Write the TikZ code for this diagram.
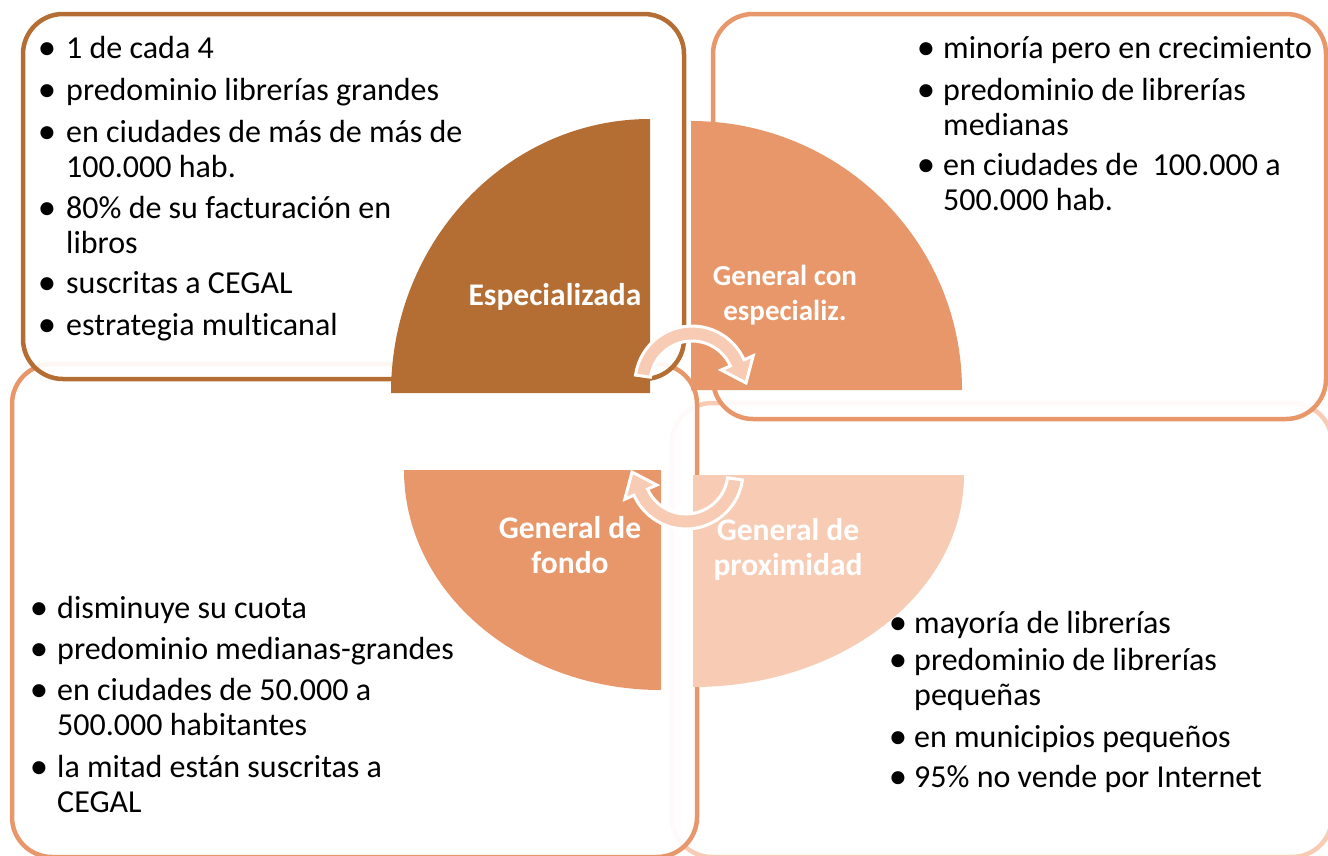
\documentclass[tikz,border=0pt]{standalone}
\usepackage{fontspec}
\setmainfont[Ligatures={NoCommon,NoContextual}, RawFeature={-liga;-clig;-calt}]{Carlito}
\definecolor{cBrown}{HTML}{B46E34}
\definecolor{cOrange}{HTML}{E8976A}
\definecolor{cPeach}{HTML}{F8CBB4}
\newcommand{\bul}[1]{\llap{\raisebox{-1.5pt}{\scalebox{1.15}{\textbullet}}\hspace{#1pt}}}
\begin{document}
\begin{tikzpicture}[x=1pt,y=-1pt]
    \tikzstyle{card}=[fill=white, fill opacity=0.92, line width=4.5pt, rounded corners=40pt]
    \tikzstyle{bullettext}=[anchor=base west, inner sep=0pt, align=left, font=\fontsize{32}{35}\selectfont]
    \tikzstyle{qlabel}=[anchor=base, inner sep=0pt, align=center, text=white, font=\bfseries\fontsize{31.5}{35}\selectfont]
    \tikzstyle{turn}=[fill=cPeach, draw=white, line width=3pt]
    \useasboundingbox (0,0) rectangle (1328,855);
    % boxes, back to front
    \draw[card, draw=cPeach] (672,403) rectangle (1332,857);
    \draw[card, draw=cOrange] (12,364) rectangle (697,857);
    \draw[card, draw=cOrange] (713,14) rectangle (1326,419);
    \draw[card, draw=cBrown] (23,14) rectangle (684,379);
    % quarters
    \fill[cBrown] (650,393) -- (391,393) arc[start angle=180, end angle=270, x radius=259, y radius=274] -- cycle;
    \fill[cOrange] (691,390) -- (691,121) arc[start angle=270, end angle=360, x radius=271, y radius=269] -- cycle;
    \fill[cOrange] (661,470) -- (404,470) arc[start angle=180, end angle=90, x radius=257, y radius=220] -- cycle;
    \fill[cPeach] (693,475) -- (964,475) arc[start angle=0, end angle=90, x radius=271, y radius=212] -- cycle;
    % cycle arrows
    \begin{scope}[shift={(692,383)}, yscale=-1]
      \filldraw[turn] (172:57) arc[start angle=172, end angle=24, radius=57] -- (24:67) -- (0:54) -- (24:32) -- (24:42) arc[start angle=24, end angle=172, radius=42] -- cycle;
    \end{scope}
    \begin{scope}[shift={(686,472)}, yscale=-1, rotate=180]
      \filldraw[turn] (172:57) arc[start angle=172, end angle=24, radius=57] -- (24:67) -- (0:54) -- (24:32) -- (24:42) arc[start angle=24, end angle=172, radius=42] -- cycle;
    \end{scope}
    % quarter labels (base = last line)
    \node[qlabel] (spec) at (555,305) {Especializada};
    \node[qlabel, font=\bfseries\fontsize{29}{35}\selectfont] (gcon) at (785,320) {General con\\especializ.};
    \node[qlabel] (gfon) at (570,573) {General de\\fondo};
    \node[qlabel] (gpro) at (788,575) {General de\\proximidad};
    % top left
    \node[bullettext] (tl1) at (66,58) {\bul{10}1 de cada 4};
    \node[bullettext] (tl2) at (66,100) {\bul{10}predominio librerías grandes};
    \node[bullettext] (tl3) at (66,177) {\bul{10}en ciudades de más de más de\\100.000 hab.};
    \node[bullettext] (tl4) at (66,253) {\bul{10}80\% de su facturación en\\libros};
    \node[bullettext] (tl5) at (66,293) {\bul{10}suscritas a CEGAL};
    \node[bullettext] (tl6) at (66,335) {\bul{10}estrategia multicanal};
    % top right
    \node[bullettext] (tr1) at (943,58) {\bul{8}minoría pero en crecimiento};
    \node[bullettext] (tr2) at (943,135) {\bul{8}predominio de librerías\\medianas};
    \node[bullettext] (tr3) at (943,210) {\bul{8}en ciudades de\ \ 100.000 a\\500.000 hab.};
    % bottom left
    \node[bullettext] (bl1) at (57,618) {\bul{9}disminuye su cuota};
    \node[bullettext] (bl2) at (57,659) {\bul{9}predominio medianas-grandes};
    \node[bullettext] (bl3) at (57,735) {\bul{9}en ciudades de 50.000 a\\500.000 habitantes};
    \node[bullettext] (bl4) at (57,812) {\bul{9}la mitad están suscritas a\\CEGAL};
    % bottom right
    \node[bullettext] (br1) at (914,633) {\bul{7}mayoría de librerías};
    \node[bullettext] (br2) at (914,705) {\bul{7}predominio de librerías\\pequeñas};
    \node[bullettext] (br3) at (914,747) {\bul{7}en municipios pequeños};
    \node[bullettext] (br4) at (914,787) {\bul{7}95\% no vende por Internet};
\end{tikzpicture}
\end{document}
